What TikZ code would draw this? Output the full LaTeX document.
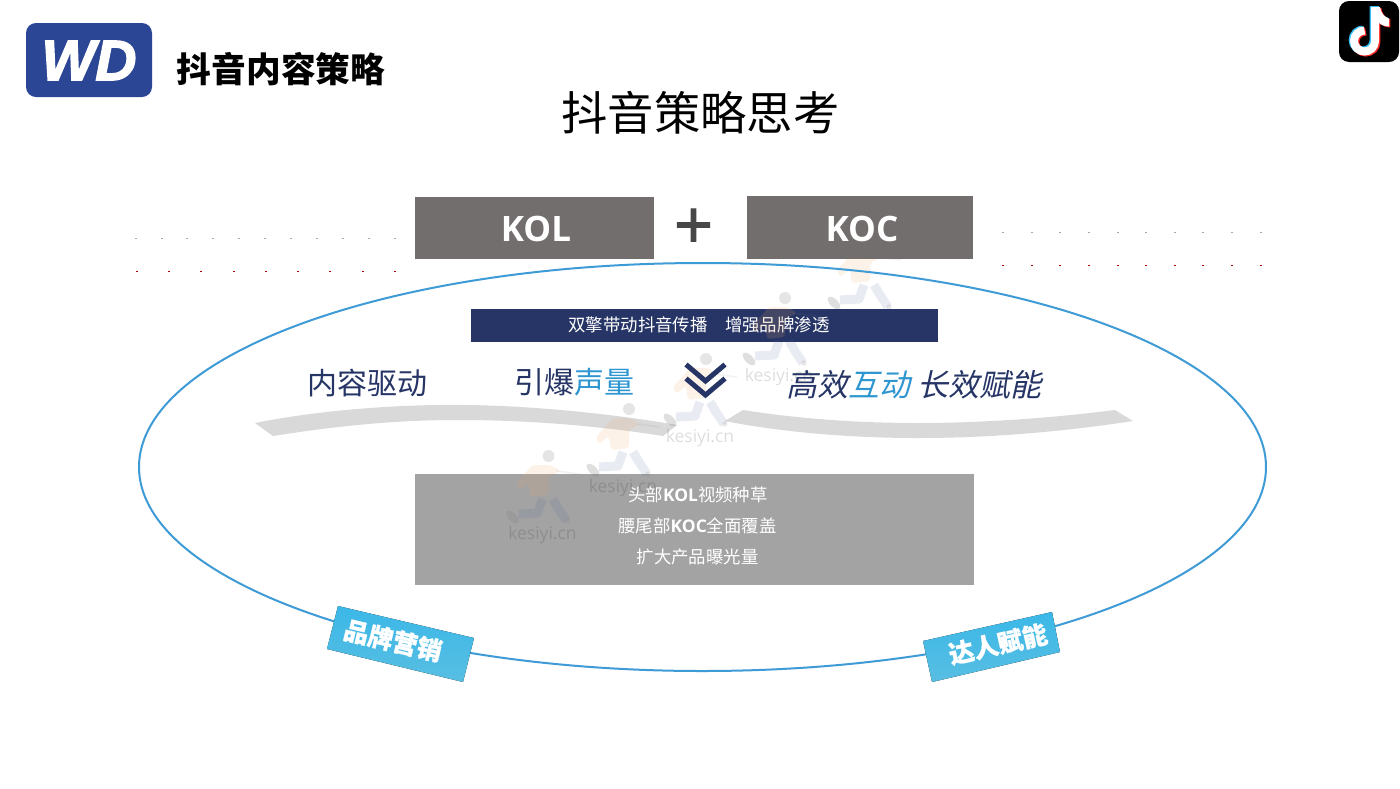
\documentclass[tikz,border=0pt]{standalone}
\usepackage{fontspec}
\setmainfont{Noto Sans CJK SC}
\newfontfamily\cjkit[FakeSlant=0.22]{Noto Sans CJK SC}
\newfontfamily\cjkheavy[BoldFeatures={FakeBold=0.8}]{Noto Sans CJK SC}
\newfontfamily\latinb{Open Sans}
\newfontfamily\wdfont[BoldItalicFeatures={FakeBold=2.5}]{Liberation Sans}
\newfontfamily\plusfont[FakeBold=1.6]{Liberation Sans}
\newfontfamily\wmfont{Open Sans}
\definecolor{navy}{HTML}{263565}
\definecolor{skyb}{HTML}{2E96D0}
\definecolor{boxg}{HTML}{726E6E}
\definecolor{panelg}{HTML}{A3A3A3}
\definecolor{brush}{HTML}{D9D9D9}
\definecolor{wdblue}{HTML}{2B4695}
\definecolor{ring}{HTML}{3E9BD6}
\definecolor{tagtop}{HTML}{3BB8E8}
\definecolor{tagbot}{HTML}{58BEE2}
\definecolor{peach}{HTML}{F2A868}
\definecolor{slatey}{HTML}{5060A0}
\newcommand{\fsz}[1]{\fontsize{#1}{#1}\selectfont}
\newcommand{\runnerfig}[2]{%
  \begin{scope}[shift={(#1,#2)}]
    \fill[fill=peach,opacity=.15,rounded corners=3pt] (-27,-51) -- (-10,-70) -- (8,-70) -- (18,-64) -- (6,-58) -- (6,-40) -- (-12,-38) -- (-14,-52) -- (-24,-44) -- cycle;
    \draw[draw=gray,opacity=.1,line width=1.5pt] (14,-64) -- (37,-61);
    \fill[fill=gray,opacity=.2] (6,-79) circle (6);
    \draw[draw=slatey,opacity=.12,line width=9pt,line join=round] (0,-36) -- (-5,-22) -- (-24,-21) (10,-36) -- (16,-26) -- (24,-14);
    \fill[fill=gray,opacity=.25,rotate around={-45:(-30,-18)}] (-30,-18) ellipse (8 and 4);
    \fill[fill=gray,opacity=.18] (25,-14) circle (2.5);
  \end{scope}}
\newcommand{\runnermark}[2]{\runnerfig{#1}{#2}\node[text=black,opacity=.13,font=\wmfont\fsz{17.5}] at (#1,#2) {kesiyi.cn};}
\tikzset{
  x=1pt,y=-1pt,
  hdbox/.style={fill=boxg,inner sep=0pt,anchor=center},
  hdtext/.style={text=white,font=\latinb\bfseries\fsz{35},inner sep=0pt},
  panelline/.style={text=white,font=\fsz{17.4},inner sep=0pt},
  bigword/.style={font=\fsz{30},inner sep=0pt},
  tag/.style={text=white,font=\cjkheavy\bfseries\fsz{25},inner sep=0pt},
  brushstroke/.style={fill=brush,draw=none},
  chev/.style={draw=navy,line width=5pt,line cap=butt,line join=miter},
  tagshade/.style={top color=tagtop,bottom color=tagbot,draw=none},
}
\begin{document}
\begin{tikzpicture}
\useasboundingbox (0,0) rectangle (1400,788);
\fill[white] (0,0) rectangle (1400,788);
% far runner lies behind the band and the KOC box
\runnerfig{864}{321}
% logo
\fill[wdblue,rounded corners=10pt] (26,23) rectangle (152,97);
\node[text=white,inner sep=0pt,font=\wdfont\bfseries\itshape\fsz{57}] (wd) at (89,60.5) {WD};
\node[anchor=center,inner sep=0pt,font=\bfseries\fsz{34.7}] (head) at (281,69) {抖音内容策略};
\node[anchor=center,inner sep=0pt,font=\fsz{46.3}] (title) at (700.5,113) {抖音策略思考};
% tiktok
\fill[black,rounded corners=10pt] (1339,1) rectangle (1399,62);
\foreach \dx/\dy/\col in {-1.3/-1/cyan!80!white, 1.3/1/red!80!pink, 0/0/white}{
  \begin{scope}[shift={(\dx,\dy)}]
    \draw[draw=\col,line width=8pt] (1375,8) -- (1375,41) arc[start angle=0,end angle=270,radius=10.5];
    \fill[\col] (1371,7) -- (1380,7) .. controls (1381,13) and (1384,17) .. (1389,18.5) -- (1389,26.5) .. controls (1385,26.5) and (1381,25) .. (1378,22) -- cycle;
  \end{scope}}
% KOL KOC
\node[hdbox,minimum width=239pt,minimum height=62pt] (kol) at (534,228) {};
\node[hdtext] (kolt) at (536,229) {KOL};
\node[hdbox,minimum width=226pt,minimum height=63pt] (koc) at (860,227.5) {};
\node[hdtext] (koct) at (862,228.5) {KOC};
\node[inner sep=0pt,font=\plusfont\fsz{66},text=black!72] (plus) at (693.5,228) {+};
% dots
\foreach \x in {135,161,186,212,238,264,290,316,342,368,394} \fill[gray!70] (\x,237.5) rectangle ++(1.5,1.5);
\foreach \x in {136,168,200,233,265,297,329,362,394} \fill[red!70!black] (\x,270.5) rectangle ++(1.5,1.5);
\foreach \x in {1002,1031,1059,1088,1117,1145,1174,1202,1231,1260} {\fill[gray!70] (\x,231.5) rectangle ++(1.5,1.5);\fill[red!70!black] (\x,264.5) rectangle ++(1.5,1.5);}
% ellipse
\draw[draw=ring,line width=2pt] (702.5,467) ellipse (563.5 and 204);
% band
\node[fill=navy,minimum width=467pt,minimum height=33pt,inner sep=0pt] (band) at (704.5,325) {};
\node[text=white,font=\fsz{17.4},inner sep=0pt] (bandt) at (699,325) {双擎带动抖音传播\hspace{1em}增强品牌渗透};
% brush strokes
\fill[brushstroke] (255,423) .. controls (320,410) and (400,404) .. (467,405) .. controls (540,406) and (620,415) .. (677,425) -- (663,436) .. controls (600,426) and (530,420) .. (457,420) .. controls (390,420) and (330,427) .. (273,436) -- cycle;
\fill[brushstroke] (725,421) -- (743,410) .. controls (800,419) and (860,423) .. (917,423) .. controls (990,423) and (1060,417) .. (1115,410) -- (1133,421) .. controls (1060,432) and (990,438) .. (917,438) .. controls (850,438) and (780,432) .. (725,421) -- cycle;
% panel
\node[fill=panelg,minimum width=559pt,minimum height=111pt,inner sep=0pt] (panel) at (694,529.5) {};
% watermarks
\runnermark{542.5}{535}
\runnermark{623}{488}
\runnermark{700}{438}
\runnermark{779}{377}
% words
\node[bigword,text=navy] (w1) at (367.5,383) {内容驱动};
\node[bigword,text=navy] (w2) at (574.5,382) {引爆\textcolor{skyb}{声量}};
\node[bigword,text=navy,font=\cjkit\fsz{31}] (w3) at (914,385) {高效\textcolor{skyb}{互动} 长效赋能};
% chevrons
\draw[chev] (686,364.5) -- (705.5,381) -- (725,364.5);
\draw[chev] (686,378.5) -- (705.5,395) -- (725,378.5);
% panel text
\node[panelline] (p1) at (698,495) {头部{\latinb\bfseries KOL}视频种草};
\node[panelline] (p2) at (697.5,526) {腰尾部{\latinb\bfseries KOC}全面覆盖};
\node[panelline] (p3) at (697.5,557) {扩大产品曝光量};
% tags
\fill[tagshade] (338,606) -- (474,638) -- (463,682) -- (327,649) -- cycle;
\node[tag,rotate=-13.3] (t1) at (393,640.5) {品牌营销};
\fill[tagshade] (923,641) -- (1052,612) -- (1060,652) -- (932,682) -- cycle;
\node[tag,rotate=12.6] (t2) at (998,644) {达人赋能};
\end{tikzpicture}
\end{document}
